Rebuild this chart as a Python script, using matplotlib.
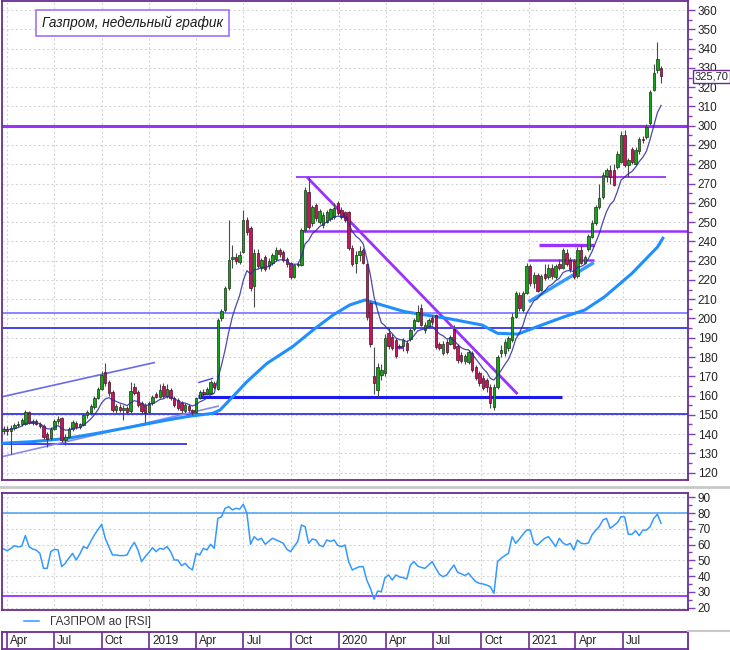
import numpy as np
import pandas as pd
import matplotlib
matplotlib.use("Agg")
import matplotlib.pyplot as plt
import matplotlib.dates as mdates
from matplotlib.lines import Line2D
from matplotlib.ticker import MultipleLocator

plt.rcParams["font.family"] = ["Liberation Sans", "DejaVu Sans"]

# weekly candles, first week starts 2018-03-26
start = "2018-03-26"

opens = [
    141.5, 142.5, 141.8, 143, 144.5, 145, 145, 151.5, 145.8, 147,
    145.3, 144, 140, 137.8, 142.5, 147, 148.2, 137, 138.5, 142.5,
    146, 143.5, 144.5, 150, 151, 154, 158.5, 163.5, 172, 167,
    162, 152.5, 154, 152.5, 153.5, 151.8, 164.5, 162, 156, 155,
    151.5, 156, 161, 159.5, 165, 160, 163, 159, 157.5, 156,
    152, 154.5, 152.5, 151.5, 159, 162, 161, 161.5, 166.5, 163.5,
    200, 204.4, 215.6, 231, 232, 229.5, 234.6, 251, 246.7, 217,
    233.8, 226, 231.7, 227, 228.6, 230.7, 235.5, 234.5, 231, 228.6,
    221.7, 227.5, 227.7, 245.9, 265.8, 249.3, 258.8, 250, 248.5, 250.2,
    251.4, 252.5, 259.7, 256.5, 255.4, 255.4, 236.5, 229, 233, 235.5,
    228, 208, 170, 163, 170.5, 171.5, 192.5, 190.5, 189, 185,
    185.5, 187.5, 189.5, 194.5, 198.5, 205.3, 194, 196, 200, 201.8,
    186.5, 182, 188, 187, 194.4, 185.5, 181, 178, 177.5, 182,
    175, 171.5, 169, 168, 164.6, 154.3, 164.6, 181.9, 182, 184.5,
    188.8, 201, 212, 204.5, 213, 227, 218.5, 222.5, 215, 223,
    221.5, 226, 221.5, 228.5, 226, 234, 230.5, 230, 222, 235.5,
    229, 236, 242.5, 249.5, 258, 263, 274, 277, 277, 278.5,
    281, 295.2, 279.5, 288, 280, 287, 293, 294.3, 301.2, 318.5,
    328.9, 329.7,
]
highs = [
    144, 144, 144.5, 146, 147, 148.5, 152.5, 152, 148, 148,
    146.5, 145, 141, 143.5, 148, 149.3, 149, 140, 143.5, 147.5,
    147, 146, 150.8, 152.5, 155.5, 160, 164.5, 173, 177, 168,
    163, 155.5, 155.5, 155, 154.5, 167, 166.5, 163, 157, 156,
    157, 160.5, 162, 166, 166.5, 166, 164, 160, 158.5, 157,
    156, 155.5, 153, 159.5, 163, 163.5, 164.5, 168, 167.5, 200,
    205, 217, 251, 238, 234, 235, 256.3, 252.5, 248, 236,
    236, 231.5, 233, 231.5, 234, 237.2, 236.5, 235.5, 232, 229.5,
    228.5, 229.5, 247, 268, 273.5, 259, 260, 257, 255, 256.5,
    257.5, 260, 261, 258, 256, 256, 238, 235, 237.5, 236.5,
    229, 209, 185, 177, 176.5, 192, 195, 192, 190, 187,
    190, 189, 195, 200, 207, 207.5, 198, 200, 202, 202.5,
    188, 188.5, 189.5, 191.5, 196.5, 186.5, 182.5, 181.5, 183.5, 183,
    176, 172.5, 170.5, 169, 166, 166, 181, 186, 189.5, 191,
    203, 214, 213.5, 214.5, 229, 228, 224, 223.5, 223, 228,
    228.5, 228, 228.5, 231, 236.5, 236, 232, 231, 237, 238,
    233, 244, 251, 259, 270, 276, 278, 279.5, 280, 287,
    297.5, 298, 283, 289, 289, 294, 294.5, 301, 318.5, 332,
    343.6, 331,
]
lows = [
    140, 139.5, 129.5, 142, 143.5, 144, 144.5, 145, 144.5, 144.5,
    143, 137.5, 133.5, 137, 142, 145.5, 136, 134.5, 138, 141.5,
    142.5, 142.5, 144, 148.5, 150, 153, 158, 163, 165, 160,
    151.5, 151, 151.5, 147.3, 150.5, 151, 160.5, 154, 150.5, 146.5,
    150.5, 155, 158.5, 159, 159, 159, 157.5, 154, 152.5, 151,
    151, 151.5, 149.8, 151, 158, 159.5, 160.5, 161, 163.5, 163,
    198.5, 203.5, 215, 226, 228, 228.5, 234, 243.5, 214, 206,
    226, 224.5, 224.5, 225.5, 227.5, 230, 232, 229.5, 226.5, 220.5,
    221, 226.5, 227, 245, 246.5, 248, 250.5, 249, 247, 249.5,
    250.5, 251.5, 253.5, 251.5, 250, 235.5, 227, 223.5, 230, 228,
    199, 185, 161, 159.5, 168, 170, 184, 183.5, 179.5, 184,
    183, 182, 188.5, 193.5, 198, 196, 192.5, 195, 196.5, 184,
    183.5, 181, 181.5, 186, 184, 177, 177, 176.5, 176.5, 172,
    168, 165, 162.8, 162, 153.5, 152.5, 163.5, 180, 180.5, 183,
    188, 200, 204, 203.5, 212.5, 217, 216, 213.5, 214, 220,
    220.5, 220.5, 220.5, 225, 225.5, 227, 224, 220.5, 221, 228,
    228, 235, 241.5, 248.5, 257, 262, 271, 270, 268.5, 277.5,
    280.5, 278.5, 273.5, 280, 279.5, 285.5, 291, 293, 300.5, 318,
    327.5, 322,
]
closes = [
    142.5, 141.8, 143, 144.5, 145.5, 147.5, 151.5, 145.8, 147, 145.3,
    144, 138.5, 137.5, 142.5, 147, 148, 137, 138.5, 142.5, 146.5,
    143.5, 145, 150, 151.5, 154.5, 158.5, 163.5, 170.5, 166.5, 161.5,
    152.5, 154.5, 152.5, 153.5, 151.5, 162.5, 161.5, 155, 151.8, 151,
    156, 159.5, 159.5, 163, 159.8, 163.5, 158.5, 155, 153.5, 152.3,
    155, 152.5, 151.5, 158.5, 162, 161, 163.5, 167, 164.5, 199,
    204, 215.6, 230.5, 232, 230, 233, 251, 245, 215.6, 234,
    227, 230.3, 225.5, 230, 232.9, 235.5, 233.5, 230.5, 228, 221.3,
    227.7, 228.5, 245.9, 266.6, 247.6, 258, 252, 256, 253.7, 255.4,
    256.6, 257.5, 254.5, 252.8, 251, 236.4, 228.5, 233, 235, 229,
    201, 187, 166.5, 175, 173.5, 189.7, 185.5, 184.5, 180.5, 185.5,
    188.8, 183.5, 194, 199, 203.5, 196.6, 196.5, 199, 198, 185.4,
    184.5, 187, 182.8, 190.5, 184.5, 178.5, 178, 180.3, 182.8, 173.3,
    169, 166.5, 164, 164.5, 156, 164.6, 180.2, 183.6, 188, 189.7,
    201, 213, 205.5, 213, 227, 218.5, 222.5, 214.5, 222, 221,
    226, 222, 227, 226, 235.5, 228.5, 225.5, 221.7, 235.5, 229,
    232, 243, 249.5, 258, 262.5, 274.5, 277, 273.5, 269, 285.5,
    295.2, 279.6, 282, 281, 287.5, 293, 292.5, 299.5, 317.6, 327.2,
    334.4, 325.7,
]

# slow moving average (week index, value)
ma_long_weeks = [0, 8, 17.5, 25.7, 35.6, 45, 50.5, 57.6, 59.6, 63.1, 67, 72.5,
                 79.6, 85.2, 90.7, 95.3, 99.5, 104.1, 110.5, 122.3, 131.7, 136,
                 141.6, 147, 154.5, 160, 165.5, 173, 180, 181.5]
ma_long_vals = [135.3, 136.1, 137.8, 140.4, 143.9, 147.3, 149.1, 150.8, 152.5,
                159.4, 167.2, 176.7, 185.4, 194, 201.8, 207, 209.6, 207, 203.5,
                200, 196.6, 192.3, 191.9, 195.8, 201, 204.4, 211.3, 223.4, 237,
                241.6]

rsi = [
    57.2, 56.1, 57.5, 59.3, 58.5, 59, 65.7, 58.7, 57.2, 56.5,
    54.4, 44.9, 44.9, 55.5, 57, 56.6, 46, 48.1, 51.5, 54.4,
    50.2, 54, 58.7, 57.6, 62, 66.1, 69.5, 72.8, 64, 58.5,
    53.4, 53.4, 53, 53, 53.4, 58, 61.4, 56.6, 49.2, 52.3,
    55, 58, 55.5, 57.6, 57, 58.7, 55.5, 50.2, 50.2, 46.6,
    48.1, 45.5, 43.9, 54.4, 53.4, 57.6, 56.6, 60.2, 57.6, 76.6,
    77.7, 83, 84, 82, 83, 82.5, 85.5, 79.8, 60.2, 65,
    62.9, 64, 60.2, 62, 64, 63, 62, 60.8, 57, 55.5,
    58.7, 62, 72.4, 71.4, 60.8, 63.5, 62.9, 59.5, 58.7, 62.9,
    62, 62.9, 59.5, 58.7, 59.7, 49.2, 43.9, 45, 46, 46,
    37.5, 32.2, 25.3, 30.5, 30.1, 39, 40.7, 37.5, 40.7, 39.5,
    39, 38.2, 47, 49.2, 46.4, 45.5, 44.9, 47, 49.2, 45,
    41.1, 39.6, 40.7, 44, 47, 42.4, 41.5, 40.3, 41.8, 39,
    36.5, 35.4, 35, 34.3, 33.3, 29.1, 49.2, 51.3, 53, 54.4,
    65, 60.8, 63.5, 66.5, 69.2, 69.2, 60.8, 59.7, 62, 64,
    65, 62, 58.7, 64, 61, 59.7, 60.8, 56.6, 62.9, 60.8,
    60.5, 61, 66.1, 69, 71.4, 75.6, 76.6, 70.3, 72, 73.9,
    77.7, 77.5, 66.5, 66.5, 68.8, 65.7, 69.2, 69.2, 71.4, 76.6,
    79.2, 73.5,
]

# drawn levels and trend lines: (week from, price from, week to, price to, colour, width)
levels_full = [(300, "#9932ff", 2.2), (202.7, "#8585ff", 1.4),
               (195, "#2323ee", 1.2), (150.3, "#2323ee", 1.2)]
trend_lines = [
    (80.5, 273.2, 182.3, 273.2, "#9932ff", 1.3),
    (81.6, 245.5, 190, 245.5, "#9932ff", 1.8),
    (147.3, 238.2, 162.5, 238.2, "#9932ff", 2.4),
    (144.3, 230.3, 162.5, 230.3, "#9932ff", 1.8),
    (53.5, 159.4, 153.7, 159.4, "#1a1aee", 2.2),
    (-2, 135.0, 50.5, 135.0, "#2323ee", 1.2),
    (-2, 158.7, 41.7, 177.2, "#6a6aee", 1.2),
    (-2, 127.6, 59.3, 154.6, "#8a8aee", 1.2),
    (83.6, 273.2, 141.5, 160.8, "#9932ff", 2.0),
    (144.6, 208.7, 162.5, 229.0, "#3399ff", 2.4),
    (107.7, 185.3, 110.0, 185.3, "#9932ff", 2.2),
    (53.6, 166.7, 57.7, 169.0, "#4444ee", 1.0),
    (53.6, 159.9, 57.7, 161.0, "#4444ee", 1.0),
]

quarter_dates = pd.date_range("2018-04-01", "2021-07-01", freq="QS")
quarter_labels = [str(d.year) if d.month == 1 else d.strftime("%b") for d in quarter_dates]

purple = "#6a2c91"
x0 = mdates.date2num(pd.Timestamp(start))


def wx(w):
    return x0 + 7 * np.asarray(w, dtype=float)


n = len(closes)
o = np.array(opens); h = np.array(highs); l = np.array(lows); c = np.array(closes)
x = wx(np.arange(n))
ma_fast = pd.Series(closes).ewm(span=9, adjust=False).mean()

fig = plt.figure(figsize=(7.3, 6.5), dpi=100)
W, H = 730, 650
ax = fig.add_axes([2 / W, 1 - 480 / H, 686 / W, 479 / H])
ax_r = fig.add_axes([2 / W, 1 - 610 / H, 686 / W, 117 / H])
ax_d = fig.add_axes([2 / W, 1 / H, 686 / W, 17 / H])

xlim = (mdates.date2num(pd.Timestamp("2018-03-23")), mdates.date2num(pd.Timestamp("2021-11-04")))
tick_x = mdates.date2num(quarter_dates)

for a in (ax, ax_r):
    a.set_xlim(*xlim)
    a.set_xticks(tick_x)
    a.tick_params(axis="x", length=0, labelbottom=False)
    a.grid(True, color="#d6d6d6", linestyle=(0, (2, 2)), linewidth=0.8)
    a.set_axisbelow(True)
    a.yaxis.tick_right()
    a.tick_params(axis="y", which="both", direction="out", color="#7b3fbf",
                  labelsize=8.5, labelcolor="#222222", pad=2)
    a.tick_params(axis="y", which="major", length=5, width=1)
    a.tick_params(axis="y", which="minor", length=3, width=1)
    for s in a.spines.values():
        s.set_color(purple)
        s.set_linewidth(1.3)

# price panel
ax.set_ylim(116.2, 364.7)
ax.set_yticks(np.arange(120, 361, 10))
ax.yaxis.set_minor_locator(MultipleLocator(5))

for lvl, col, lw in levels_full:
    ax.axhline(lvl, color=col, lw=lw, zorder=2)
for w0, p0, w1, p1, col, lw in trend_lines:
    ax.plot(wx([w0, w1]), [p0, p1], color=col, lw=lw, zorder=2, solid_capstyle="butt")

ax.plot(wx(ma_long_weeks), ma_long_vals, color="#1f8fff", lw=2.2, zorder=3)

up = c >= o
ax.vlines(x, l, h, color="#4a4a4a", lw=0.8, zorder=4)
body_lo = np.minimum(o, c)
body_h = np.maximum(np.abs(c - o), 0.5)
ax.bar(x[up], body_h[up], bottom=body_lo[up], width=4.6, color="#17a317",
       edgecolor="#163316", linewidth=0.5, zorder=5)
ax.bar(x[~up], body_h[~up], bottom=body_lo[~up], width=4.6, color="#c4175c",
       edgecolor="#4a1028", linewidth=0.5, zorder=5)

ax.plot(x, ma_fast, color="#2a2a9a", lw=0.9, alpha=0.85, zorder=6)

ax.text(0.0583, 0.954, "Газпром, недельный график", transform=ax.transAxes,
        fontsize=9.8, style="italic", color="#1a1a1a",
        va="center", ha="left",
        bbox=dict(boxstyle="square,pad=0.42", fc="white", ec="#a070ff", lw=1.2))

price_lbl = ax.text(1.0095, closes[-1], f"{closes[-1]:.2f}".replace(".", ","),
                    transform=ax.get_yaxis_transform(), fontsize=8, color="#222222",
                    va="center", ha="left", zorder=10,
                    bbox=dict(boxstyle="square,pad=0.12", fc="white", ec=purple, lw=1))
price_lbl.set_clip_on(False)

# RSI panel
ax_r.set_ylim(18.5, 92.7)
ax_r.set_yticks(np.arange(20, 91, 10))
ax_r.yaxis.set_minor_locator(MultipleLocator(5))
ax_r.axhline(80, color="#5aa6f0", lw=1.2)
ax_r.axhline(27.5, color="#9932ff", lw=1.3)
ax_r.plot(x, rsi, color="#3399ff", lw=1.1)
ax_r.legend([Line2D([], [], color="#3399ff", lw=1.1)], ["ГАЗПРОМ ао [RSI]"],
            loc="center left", bbox_to_anchor=(18 / W, 1 - 622 / H),
            bbox_transform=fig.transFigure, frameon=False, fontsize=8.5,
            handlelength=1.3, handletextpad=0.9, borderpad=0, labelcolor="#333333")

# date strip
ax_d.set_xlim(*xlim)
ax_d.set_ylim(0, 1)
ax_d.set_xticks([])
ax_d.set_yticks([])
for s in ax_d.spines.values():
    s.set_color(purple)
    s.set_linewidth(1.3)
for tx, lab in zip(tick_x, quarter_labels):
    ax_d.axvline(tx, color=purple, lw=1.2)
    ax_d.text(tx + 6, 0.45, lab, fontsize=8.5, color="#222222", va="center", ha="left")

# panel separators
fig.add_artist(Line2D([0, 1], [1 - 486.5 / H] * 2, color="#c8c8c8", lw=2))
fig.add_artist(Line2D([688 / W, 1], [1 - 631 / H] * 2, color="#c8c8c8", lw=1.5))

fig.savefig("out.png", dpi=100, facecolor="white")
